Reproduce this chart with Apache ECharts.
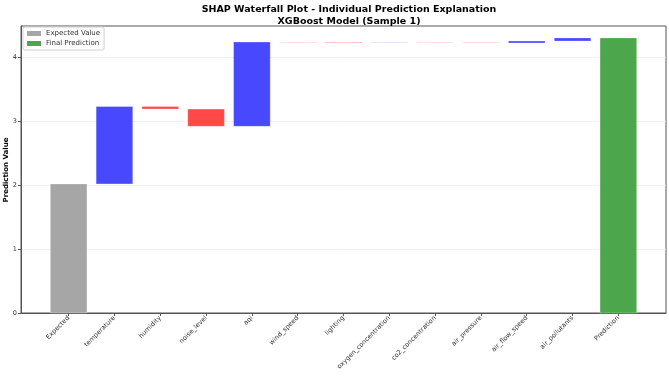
<!DOCTYPE html>
<html>
<head>
<meta charset="utf-8">
<script src="https://cdn.jsdelivr.net/npm/echarts@6/dist/echarts.min.js"></script>
<style>
  html, body { margin: 0; padding: 0; background: #fff; }
  #chart { width: 669px; height: 377px; }
</style>
</head>
<body>
<div id="chart"></div>
<script>
// labels along the x axis
const features = ['Expected', 'temperature', 'humidity', 'noise_level', 'aqi', 'wind_speed', 'lighting',
    'oxygen_concentration', 'co2_concentration', 'air_pressure', 'air_flow_speed', 'air_pollutants', 'Prediction'];
const expectedValue = 2.02;
// contributions of each feature, in order
const shapValues = [1.21, -0.04, -0.27, 1.32, -0.006, -0.006, 0.002, -0.003, -0.003, 0.03, 0.05];
const yTicks = [0, 1, 2, 3, 4];

const FONT = 'DejaVu Sans';
const BLUE = '#4848ff', RED = '#ff4848', GRAY = '#a6a6a6', GREEN = '#4ca64c';

// build the waterfall steps
var steps = [];
var running = expectedValue;
shapValues.forEach(function (v, i) {
    var start = running;
    running += v;
    steps.push([i + 1, Math.min(start, running), Math.max(start, running), v >= 0 ? 1 : 0]);
});
var finalValue = running;

function renderBar(color) {
    return function (params, api) {
        var x = api.value(0);
        var lo = api.coord([x - 0.4, api.value(1)]);
        var hi = api.coord([x + 0.4, api.value(2)]);
        var c = color || (api.value(3) ? BLUE : RED);
        return {
            type: 'rect',
            shape: { x: lo[0], y: hi[1], width: hi[0] - lo[0], height: lo[1] - hi[1] },
            style: { fill: c, stroke: 'rgba(255,255,255,0.5)', lineWidth: 0.6 }
        };
    };
}

var tickPos = features.map(function (f, i) { return i; });

var chart = echarts.init(document.getElementById('chart'));
chart.setOption({
    animation: false,
    title: {
        text: 'SHAP Waterfall Plot - Individual Prediction Explanation\nXGBoost Model (Sample 1)',
        left: 344, top: -1, textAlign: 'center',
        textStyle: { fontFamily: FONT, fontSize: 9.5, fontWeight: 'bold', color: '#000', lineHeight: 12 }
    },
    // y axis title, drawn as rotated text left of the tick labels
    graphic: [{
        type: 'text', x: 6, y: 170, rotation: Math.PI / 2,
        style: {
            text: 'Prediction Value', fontFamily: FONT, fontSize: 7, fontWeight: 'bold', fill: '#000',
            align: 'center', verticalAlign: 'middle'
        }
    }],
    legend: {
        data: ['Expected Value', 'Final Prediction'],
        orient: 'vertical', left: 23, top: 27,
        itemWidth: 14, itemHeight: 5, itemGap: 3,
        padding: [3, 4, 3, 4], borderColor: '#d0d0d0', borderWidth: 1, borderRadius: 2,
        backgroundColor: '#fff',
        icon: 'rect',
        textStyle: { fontFamily: FONT, fontSize: 7, color: '#333' }
    },
    grid: { left: 21, right: 3, top: 26, bottom: 64, show: true, borderColor: '#555', borderWidth: 1,
        outerBoundsMode: 'none' },
    xAxis: {
        type: 'value', min: -1.04, max: 13.04,
        axisLine: { show: true, onZero: false, lineStyle: { color: '#555' } },
        axisTick: { show: true, length: 3, lineStyle: { color: '#555' }, customValues: tickPos },
        axisLabel: {
            customValues: tickPos,
            formatter: function (v) { return features[Math.round(v)] || ''; },
            rotate: 45, fontFamily: FONT, fontSize: 6.5, color: '#333', margin: 4
        },
        splitLine: { show: false }
    },
    yAxis: {
        type: 'value', min: 0, max: 4.49, interval: 1,
        axisLine: { show: true, onZero: false, lineStyle: { color: '#555' } },
        axisTick: { show: true, length: 3, lineStyle: { color: '#555' }, customValues: yTicks },
        axisLabel: {
            customValues: yTicks,
            fontFamily: FONT, fontSize: 6.5, color: '#333', margin: 4
        },
        splitLine: { show: true, lineStyle: { color: '#ececec', width: 0.8 } }
    },
    series: [
        {
            name: 'Expected Value', type: 'custom', color: GRAY,
            renderItem: renderBar(GRAY),
            encode: { x: 0, y: [1, 2] },
            data: [[0, 0, expectedValue]]
        },
        {
            name: 'Contributions', type: 'custom',
            renderItem: renderBar(null),
            encode: { x: 0, y: [1, 2] },
            data: steps
        },
        {
            name: 'Final Prediction', type: 'custom', color: GREEN,
            renderItem: renderBar(GREEN),
            encode: { x: 0, y: [1, 2] },
            data: [[features.length - 1, 0, finalValue]]
        }
    ]
});
</script>
</body>
</html>
